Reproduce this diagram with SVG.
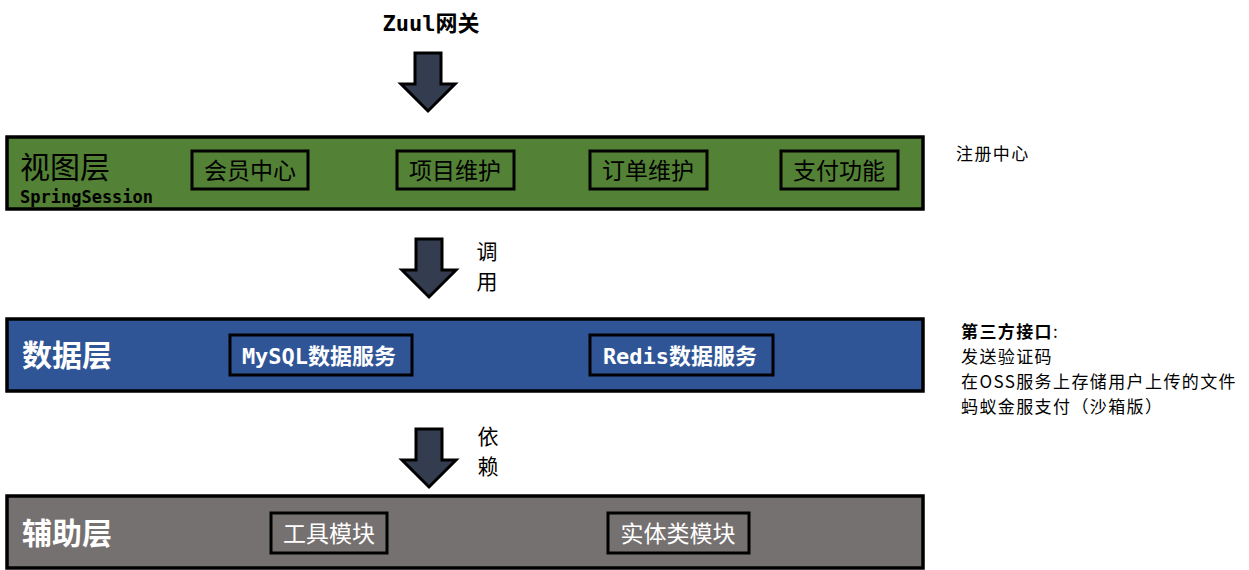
<svg xmlns="http://www.w3.org/2000/svg" width="1249" height="570" viewBox="0 0 1249 570">
<style>
.layer{stroke:#000;stroke-width:3.5}
.box{fill:none;stroke:#000;stroke-width:3}
.cn{font-family:"Noto Sans CJK SC","Liberation Sans",sans-serif}
.mono{font-family:"DejaVu Sans Mono","Liberation Mono","Noto Sans CJK SC",monospace;font-weight:bold}
.title{font-size:30px}
.item{font-size:23px}
.note{font-size:17px;fill:#000;letter-spacing:1.4px}
.arrow{fill:#333D4F;stroke:#000;stroke-width:3;stroke-linejoin:miter}
</style>
<defs>
<path id="arr" d="M-13,0 H13 V31 H27 L0,58 L-27,31 H-13 Z"/>
</defs>
<rect width="1249" height="570" fill="#fff"/>
<g id="zuul">
<text x="431" y="31" text-anchor="middle" class="mono" font-size="22">Zuul<tspan class="cn">网关</tspan></text>
</g>
<g id="connectors">
<use href="#arr" class="arrow" transform="translate(428,53)"/>
<use href="#arr" class="arrow" transform="translate(429,239)"/>
<use href="#arr" class="arrow" transform="translate(429,429)"/>
<text x="487" y="259" class="cn" font-size="21" text-anchor="middle">调</text>
<text x="487" y="289" class="cn" font-size="21" text-anchor="middle">用</text>
<text x="488" y="444" class="cn" font-size="21" text-anchor="middle">依</text>
<text x="488" y="474" class="cn" font-size="21" text-anchor="middle">赖</text>
</g>
<g id="view-layer">
<rect x="7" y="137" width="916" height="72" fill="#538135" class="layer"/>
<text x="20" y="178" class="cn title" fill="#000">视图层</text>
<text x="20" y="203" class="mono" font-size="17">SpringSession</text>
</g>
<g id="member"><rect x="192" y="151" width="116" height="38" class="box"/><text x="250" y="179" text-anchor="middle" class="cn item">会员中心</text></g>
<g id="project"><rect x="397" y="151" width="117" height="38" class="box"/><text x="455" y="179" text-anchor="middle" class="cn item">项目维护</text></g>
<g id="order"><rect x="590" y="151" width="117" height="38" class="box"/><text x="648" y="179" text-anchor="middle" class="cn item">订单维护</text></g>
<g id="pay"><rect x="781" y="151" width="117" height="38" class="box"/><text x="839" y="179" text-anchor="middle" class="cn item">支付功能</text></g>
<g id="data-layer">
<rect x="7" y="319" width="916" height="72" fill="#2F5597" class="layer"/>
<text x="22" y="366" class="cn title" fill="#fff" font-weight="bold">数据层</text>
</g>
<g id="mysql"><rect x="230" y="335" width="182" height="40" class="box"/><text x="319" y="364" text-anchor="middle" class="mono" font-size="22" fill="#fff">MySQL<tspan class="cn">数据服务</tspan></text></g>
<g id="redis"><rect x="590" y="335" width="183" height="40" class="box"/><text x="680" y="364" text-anchor="middle" class="mono" font-size="22" fill="#fff">Redis<tspan class="cn">数据服务</tspan></text></g>
<g id="aux-layer">
<rect x="7" y="496" width="916" height="72" fill="#767171" class="layer"/>
<text x="22" y="544" class="cn title" fill="#fff" font-weight="bold">辅助层</text>
</g>
<g id="tools"><rect x="271" y="513" width="116" height="40" class="box"/><text x="329" y="542" text-anchor="middle" class="cn item" fill="#fff">工具模块</text></g>
<g id="entity"><rect x="608" y="513" width="141" height="40" class="box"/><text x="678" y="542" text-anchor="middle" class="cn item" fill="#fff">实体类模块</text></g>
<g id="registry"><text x="956" y="160" class="cn note">注册中心</text></g>
<g id="third-party">
<text class="cn note" x="961" y="338"><tspan font-weight="bold">第三方接口</tspan>:<tspan x="961" dy="25">发送验证码</tspan><tspan x="961" dy="25">在OSS服务上存储用户上传的文件</tspan><tspan x="961" dy="25">蚂蚁金服支付（沙箱版）</tspan></text>
</g>
</svg>
